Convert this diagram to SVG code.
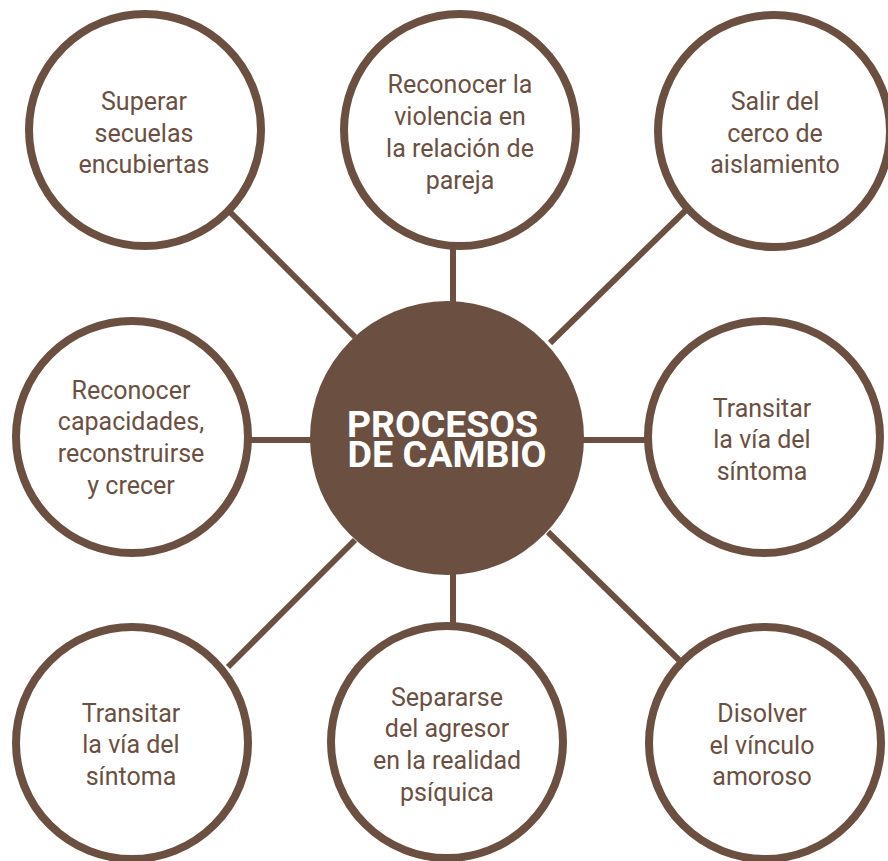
<svg xmlns="http://www.w3.org/2000/svg" width="888" height="861" viewBox="0 0 888 861">
  <style>
    .ring { fill: #ffffff; stroke: #6b5041; stroke-width: 8; }
    .hub { fill: #6b5041; }
    .link { stroke: #6b5041; stroke-width: 6; fill: none; }
    .label { font-family: Roboto, "Liberation Sans", sans-serif; font-size: 25px; fill: #6b5041; text-anchor: middle; }
    .title { font-family: Roboto, "Liberation Sans", sans-serif; font-size: 36px; font-weight: bold; fill: #ffffff; text-anchor: middle; }
  </style>
  <rect width="888" height="861" fill="#ffffff"/>

  <!-- spokes from the hub to each process -->
  <g id="connectors">
    <line class="link" x1="453" y1="246" x2="453" y2="305"/>
    <line class="link" x1="453" y1="572" x2="453" y2="626"/>
    <line class="link" x1="248" y1="440" x2="314" y2="440"/>
    <line class="link" x1="580" y1="440" x2="647" y2="440"/>
    <line class="link" x1="230" y1="212" x2="355" y2="337"/>
    <line class="link" x1="686" y1="210" x2="550" y2="343"/>
    <line class="link" x1="228" y1="667" x2="355" y2="540"/>
    <line class="link" x1="548" y1="532" x2="679" y2="660"/>
  </g>

  <g id="hub">
    <circle class="hub" cx="447" cy="438" r="137"/>
    <text class="title">
      <tspan x="447" y="437" textLength="191" lengthAdjust="spacingAndGlyphs">PROCESOS</tspan>
      <tspan x="447" y="467" textLength="199" lengthAdjust="spacingAndGlyphs">DE CAMBIO</tspan>
    </text>
  </g>

  <g id="node-superar">
    <circle class="ring" cx="145" cy="130" r="116"/>
    <text class="label" x="144" y="110">Superar</text>
    <text class="label" x="144" y="142">secuelas</text>
    <text class="label" x="144" y="173">encubiertas</text>
  </g>

  <g id="node-reconocer-violencia">
    <circle class="ring" cx="460" cy="130" r="116"/>
    <text class="label" x="460" y="93">Reconocer la</text>
    <text class="label" x="460" y="125">violencia en</text>
    <text class="label" x="460" y="157">la relación de</text>
    <text class="label" x="460" y="189">pareja</text>
  </g>

  <g id="node-salir">
    <circle class="ring" cx="774" cy="131" r="116"/>
    <text class="label" x="775" y="110">Salir del</text>
    <text class="label" x="775" y="142">cerco de</text>
    <text class="label" x="775" y="173">aislamiento</text>
  </g>

  <g id="node-reconocer-capacidades">
    <circle class="ring" cx="132" cy="437" r="116"/>
    <text class="label" x="131" y="399">Reconocer</text>
    <text class="label" x="131" y="430">capacidades,</text>
    <text class="label" x="131" y="462">reconstruirse</text>
    <text class="label" x="131" y="494">y crecer</text>
  </g>

  <g id="node-transitar-right">
    <circle class="ring" cx="764" cy="437" r="116"/>
    <text class="label" x="762" y="417">Transitar</text>
    <text class="label" x="762" y="448">la vía del</text>
    <text class="label" x="762" y="480">síntoma</text>
  </g>

  <g id="node-transitar-left">
    <circle class="ring" cx="132" cy="743" r="116"/>
    <text class="label" x="131" y="722">Transitar</text>
    <text class="label" x="131" y="753">la vía del</text>
    <text class="label" x="131" y="785">síntoma</text>
  </g>

  <g id="node-separarse">
    <circle class="ring" cx="447" cy="742" r="116"/>
    <text class="label" x="447" y="706">Separarse</text>
    <text class="label" x="447" y="737">del agresor</text>
    <text class="label" x="447" y="769">en la realidad</text>
    <text class="label" x="447" y="801">psíquica</text>
  </g>

  <g id="node-disolver">
    <circle class="ring" cx="765" cy="743" r="116"/>
    <text class="label" x="762" y="722">Disolver</text>
    <text class="label" x="762" y="754">el vínculo</text>
    <text class="label" x="762" y="785">amoroso</text>
  </g>
</svg>
